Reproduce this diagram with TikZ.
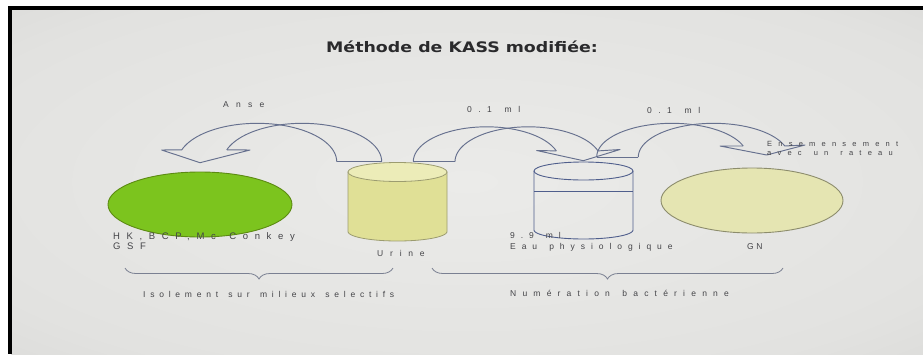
\documentclass[tikz,border=0pt]{standalone}
\usepackage{fontspec}
\setmainfont{Liberation Sans}
\newfontfamily\titlefont[FakeStretch=1.2]{DejaVu Sans}
\newfontfamily\lblfont[WordSpace=1.45]{Liberation Sans}
\usetikzlibrary{decorations.pathreplacing,shapes.geometric}

% screen background with a soft vignette
\definecolor{bgin}{HTML}{EBEBE9}
\definecolor{bgmid}{HTML}{E2E2E0}
\definecolor{bgout}{HTML}{C0C0BE}
\pgfdeclareradialshading{vignette}{\pgfpoint{0bp}{0bp}}{color(0bp)=(bgin); color(30bp)=(bgmid); color(72bp)=(bgout)}

\definecolor{arrowcol}{HTML}{66708E}
\definecolor{beakercol}{HTML}{4F5E8C}
\definecolor{urinefill}{HTML}{E0E096}
\definecolor{urinetop}{HTML}{ECECB8}
\definecolor{urineline}{HTML}{9C9C70}
\definecolor{agarfill}{HTML}{7CC41E}
\definecolor{agarline}{HTML}{5C8A12}
\definecolor{gnfill}{HTML}{E5E5B2}
\definecolor{gnline}{HTML}{8C8C6C}
\definecolor{bracecol}{HTML}{7A8092}
\definecolor{txtcol}{HTML}{444448}
\definecolor{titlecol}{HTML}{2A2A2C}

% spaced label text: size, leading, letter spacing (percent of em)
\newcommand{\spacedfont}[3]{\lblfont\fontsize{#1}{#2}\selectfont\addfontfeature{LetterSpace=#3}}

\tikzset{
  arrowline/.style={draw=arrowcol, line width=0.95pt, line join=round},
  lbl/.style={text=txtcol, inner sep=0pt},
  bracestyle/.style={draw=bracecol, line width=0.8pt,
    decorate, decoration={brace, mirror, amplitude=11pt}},
}

\begin{document}
\begin{tikzpicture}[x=1pt,y=-1pt]
\useasboundingbox (0,0) rectangle (923,354);
\fill[white] (0,0) rectangle (923,354);
\shade[shading=vignette] (11,9) rectangle (923,354);
% frame edges
\fill[black] (8,6) rectangle (923,9.5);
\fill[black] (8,6) rectangle (11.5,354);

% title
\node[font=\titlefont\bfseries\fontsize{14.5}{16}\selectfont, text=titlecol] (title) at (462,47) {Méthode de KASS modifiée:};

% selective agar plate
\node[ellipse, draw=agarline, fill=agarfill, line width=0.9pt,
      minimum width=184pt, minimum height=65pt, inner sep=0pt] (agar) at (200,204.5) {};
% nutrient agar plate
\node[ellipse, draw=gnline, fill=gnfill, line width=0.9pt,
      minimum width=182pt, minimum height=65pt, inner sep=0pt] (gn) at (752,200.5) {};

% urine container
\coordinate (urine) at (397.5,172);
\filldraw[fill=urinefill, draw=urineline, line width=0.8pt]
  (348,172) -- (348,231.5)
  -- plot[domain=180:360, samples=40] ({397.5+49.5*cos(\x)},{231.5-9.5*sin(\x)})
  -- (447,172) -- cycle;
\filldraw[fill=urinetop, draw=urineline, line width=0.8pt]
  (urine) ellipse[x radius=49.5, y radius=9.5];

% tube of physiological water
\coordinate (tube) at (583.5,171);
\draw[draw=beakercol, line width=0.9pt]
  (534,171) -- (534,230)
  -- plot[domain=180:360, samples=40] ({583.5+49.5*cos(\x)},{230-9*sin(\x)})
  -- (633,171);
\draw[draw=beakercol, line width=0.9pt] (tube) ellipse[x radius=49.5, y radius=9];
\coordinate (lvlL) at (534,191);
\coordinate (lvlR) at (633,191);
\draw[draw=beakercol, line width=0.9pt] (lvlL) -- (lvlR);

% curved arrow: urine -> selective plate (loop)
\draw[arrowline]
  plot[domain=0:162, samples=50] ({257.3+79.4*cos(\x)},{161.7-38.4*sin(\x)});
\draw[arrowline]
  plot[domain=0:162, samples=50] ({302.3+79.4*cos(\x)},{161.7-38.4*sin(\x)});
\coordinate (a1b1) at (336.7,161.7);
\coordinate (a1b2) at (381.7,161.7);
\draw[arrowline] (a1b1) -- (a1b2);
\coordinate (a1o) at (181.8,149.8);
\coordinate (a1i) at (226.8,149.8);
\coordinate (a1l) at (161.7,150);
\coordinate (a1t) at (200,162.7);
\coordinate (a1r) at (250,150);
\draw[arrowline] (a1o) -- (a1l) -- (a1t) -- (a1r) -- (a1i);

% curved arrow: urine -> tube (0.1 ml)
\draw[arrowline]
  plot[domain=180:18, samples=50] ({486.6+73.3*cos(\x)},{161.7-34.9*sin(\x)});
\draw[arrowline]
  plot[domain=180:18, samples=50] ({528.3+73.3*cos(\x)},{161.7-34.9*sin(\x)});
\coordinate (a2b1) at (413.3,161.7);
\coordinate (a2b2) at (455,161.7);
\draw[arrowline] (a2b1) -- (a2b2);
\coordinate (a2i) at (556.3,150.9);
\coordinate (a2o) at (598.0,150.9);
\coordinate (a2l) at (536.7,150.5);
\coordinate (a2t) at (583.3,160.7);
\coordinate (a2r) at (620,149.5);
\draw[arrowline] (a2i) -- (a2l) -- (a2t) -- (a2r) -- (a2o);

% curved arrow: tube -> nutrient plate (0.1 ml)
\draw[arrowline]
  plot[domain=180:19, samples=50] ({672+75.3*cos(\x)},{157-33.7*sin(\x)});
\draw[arrowline]
  plot[domain=180:19, samples=50] ({713.6+75.3*cos(\x)},{157-33.7*sin(\x)});
\coordinate (a3b1) at (596.7,157);
\coordinate (a3b2) at (638.3,157);
\draw[arrowline] (a3b1) -- (a3b2);
\coordinate (a3i) at (743.2,146);
\coordinate (a3o) at (784.8,146);
\coordinate (a3l) at (720,146);
\coordinate (a3t) at (766.7,155);
\coordinate (a3r) at (805,145);
\draw[arrowline] (a3i) -- (a3l) -- (a3t) -- (a3r) -- (a3o);

% arrow labels
\node[lbl, anchor=base west, font=\spacedfont{8.5}{10}{85}] (anse) at (223,107.3) {Anse};
\node[lbl, anchor=base west, font=\spacedfont{8.5}{10}{76}] (vol1) at (467,112.7) {0.1 ml};
\node[lbl, anchor=base west, font=\spacedfont{8.5}{10}{76}] (vol2) at (647,113.3) {0.1 ml};
\node[lbl, anchor=base west, align=left, font=\spacedfont{7.5}{9}{83}] (rake) at (767,155.3) {Ensemensement\\avec un rateau};

% item labels
\node[lbl, anchor=base west, align=left, font=\spacedfont{9.5}{9.5}{70}] (media) at (113,249) {HK,BCP,Mc Conkey\\GSF};
\node[lbl, anchor=base west, font=\spacedfont{8.5}{10}{80}] (urinelbl) at (377,256) {Urine};
\node[lbl, anchor=base west, align=left, font=\spacedfont{8.5}{11}{70}] (water) at (510,249) {9.9 ml\\Eau physiologique};
\node[lbl, anchor=base west, font=\spacedfont{8.5}{10}{30}] (gnlbl) at (747,249) {GN};

% groupings
\coordinate (g1s) at (125,268);
\coordinate (g1e) at (393,268);
\coordinate (g2s) at (432,268);
\coordinate (g2e) at (783,268);
\draw[bracestyle] (g1s) -- (g1e);
\draw[bracestyle] (g2s) -- (g2e);
\node[lbl, anchor=base west, font=\spacedfont{8.5}{10}{56}] (iso) at (143,297.7) {Isolement sur milieux selectifs};
\node[lbl, anchor=base west, font=\spacedfont{8.5}{10}{73}] (num) at (510,296.7) {Numération bactérienne};
\end{tikzpicture}
\end{document}
